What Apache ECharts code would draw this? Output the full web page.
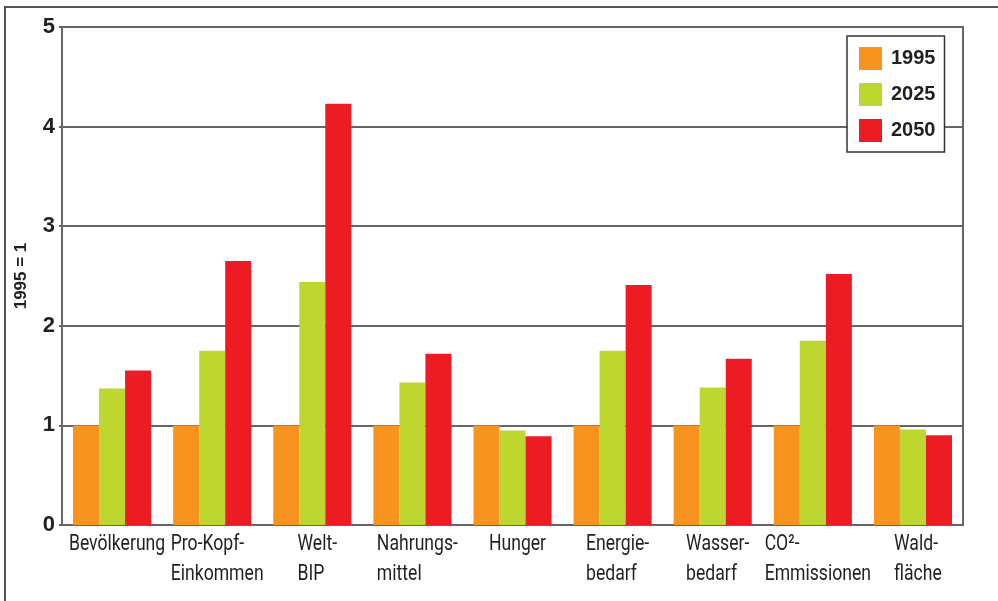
<!DOCTYPE html>
<html>
<head>
<meta charset="utf-8">
<script src="https://cdn.jsdelivr.net/npm/echarts@6/dist/echarts.min.js"></script>
<style>
  html, body { margin: 0; padding: 0; background: #fff; }
  #chart { width: 998px; height: 601px; }
</style>
</head>
<body>
<div id="chart"></div>
<script>
// Kategorien und Werte (1995 = 1)
var categories = ['Bevölkerung', 'Pro-Kopf-\nEinkommen', 'Welt-\nBIP', 'Nahrungs-\nmittel', 'Hunger',
                  'Energie-\nbedarf', 'Wasser-\nbedarf', 'CO²-\nEmmissionen', 'Wald-\nfläche'];
var years = ['1995', '2025', '2050'];
var v1995 = [1, 1, 1, 1, 1, 1, 1, 1, 1];
var v2025 = [1.37, 1.75, 2.44, 1.43, 0.95, 1.75, 1.38, 1.85, 0.96];
var v2050 = [1.55, 2.65, 4.23, 1.72, 0.89, 2.41, 1.67, 2.52, 0.90];
var colors = ['#F7931E', '#BED730', '#ED1C24'];

var labelFont = 'Roboto, "Liberation Sans", sans-serif';
var boldFont = '"Liberation Sans", Arial, sans-serif';

var chart = echarts.init(document.getElementById('chart'));

var frame = {
    type: 'rect',
    shape: { x: 5, y: 7, width: 1010, height: 620 },
    style: { fill: 'none', stroke: '#555', lineWidth: 2 },
    z: -1
};

var option = {
    animation: false,
    color: colors,
    graphic: [frame],
    grid: {
        left: 62, right: 35, top: 27, bottom: 76,
        show: true, borderColor: '#666', borderWidth: 2
    },
    legend: {
        orient: 'vertical',
        left: 847, top: 36,
        data: years,
        icon: 'rect',
        itemWidth: 23, itemHeight: 23, itemGap: 13,
        backgroundColor: '#fff',
        borderColor: '#333', borderWidth: 1.5,
        padding: [11, 9, 10, 12],
        textStyle: { fontFamily: boldFont, fontWeight: 'bold', fontSize: 20, color: '#231f20', padding: [0, 0, 0, 4] }
    },
    xAxis: {
        type: 'category',
        data: categories,
        axisLine: { lineStyle: { color: '#666', width: 2 } },
        axisTick: { show: false },
        axisLabel: { show: false }   // schmale Beschriftung wird unten als Text gesetzt
    },
    yAxis: {
        type: 'value',
        min: 0, max: 5, interval: 1,
        name: '1995 = 1',
        nameLocation: 'middle',
        nameGap: 32,
        nameTextStyle: { fontFamily: boldFont, fontWeight: 'bold', fontSize: 17, color: '#231f20' },
        axisLine: { show: true, lineStyle: { color: '#666', width: 2 } },
        axisTick: { show: true, length: 3, lineStyle: { color: '#666', width: 2 } },
        splitLine: { lineStyle: { color: '#666', width: 2 } },
        axisLabel: { fontFamily: boldFont, fontWeight: 'bold', fontSize: 22, color: '#231f20', margin: 7 }
    },
    series: [
        { name: years[0], type: 'bar', data: v1995, barGap: '0%', barCategoryGap: '22%' },
        { name: years[1], type: 'bar', data: v2025, barGap: '0%', barCategoryGap: '22%' },
        { name: years[2], type: 'bar', data: v2050, barGap: '0%', barCategoryGap: '22%' }
    ]
};

chart.setOption(option);

// Kategorienbeschriftung: schmal gestaucht, Position aus den Achsen der Grafik
var y0 = chart.convertToPixel({ yAxisIndex: 0 }, 0);
var labels = categories.map(function (c, i) {
    return {
        type: 'text',
        x: chart.convertToPixel({ xAxisIndex: 0 }, i) + 5,
        y: y0 + 4,
        scaleX: 0.8,
        style: {
            text: c.split('\n').map(function (s) { return '{t|' + s + '}'; }).join('\n'),
            align: 'center',
            verticalAlign: 'top',
            rich: { t: { align: 'left', fontFamily: labelFont, fontSize: 22, lineHeight: 30, fill: '#231f20' } }
        }
    };
});
chart.setOption({ graphic: [frame].concat(labels) });
</script>
</body>
</html>
